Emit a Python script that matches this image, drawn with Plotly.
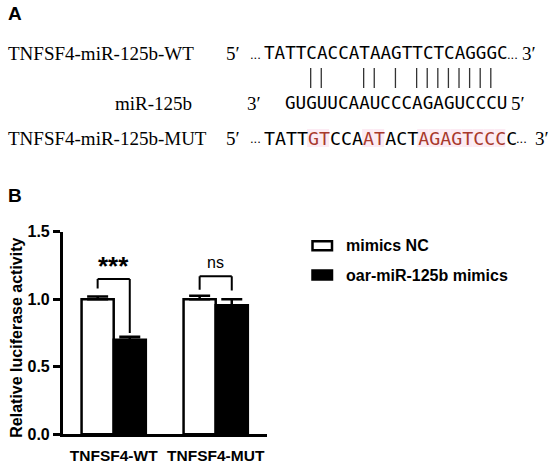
import plotly.graph_objects as go

# ---------------- Panel B data ----------------
groups = ["TNFSF4-WT", "TNFSF4-MUT"]
series_names = ["mimics NC", "oar-miR-125b mimics"]
nc_values = [1.00, 1.00]
nc_err = [0.02, 0.025]
mimic_values = [0.70, 0.955]
mimic_err = [0.022, 0.045]
sig_labels = ["***", "ns"]
sig_bracket_top = [1.15, 1.17]
sig_left_end = [1.08, 1.07]
sig_right_end = [0.75, 1.065]
sig_label_y = [1.245, 1.275]
y_tickvals = [0, 0.5, 1.0, 1.5]
y_ticktext = ["0.0", "0.5", "1.0", "1.5"]
y_title = "Relative luciferase activity"

# ---------------- Panel A data ----------------
wt_label = "TNFSF4-miR-125b-WT"
mir_label = "miR-125b"
mut_label = "TNFSF4-miR-125b-MUT"
wt_seq = "TATTCACCATAAGTTCTCAGGGC"
mir_seq = "GUGUUCAAUCCCAGAGUCCCU"      # written 3' -> 5'
mut_seq = "TATTGTCCAATACTAGAGTCCCC"
mut_red_idx = [4, 5, 9, 10, 14, 15, 16, 17, 18, 19, 20, 21]
mir_offset = 2                          # miR letter j lies under WT letter j+2
wc_pairs = {("A", "U"), ("T", "A"), ("C", "G"), ("G", "C")}

# ---------------- geometry / style ----------------
W, H = 550, 464
SANS = "Liberation Sans, Arial, sans-serif"
SERIF = "Liberation Serif, Times New Roman, serif"
MONO = "DejaVu Sans Mono, Liberation Mono, monospace"
MONO_ADV = 0.602                       # advance width of DejaVu Sans Mono (em)
RED = "#a8392c"
PINK = "#fcebf3"


def px(x):
    return x / W


def py(y):
    return 1 - y / H


annotations = []
shapes = []


def text(t, x, y, size, family, color="black", xanchor="center", weight="normal", angle=0):
    annotations.append(dict(
        text=t, x=px(x), y=py(y), xref="paper", yref="paper",
        xanchor=xanchor, yanchor="middle", showarrow=False, textangle=angle,
        borderpad=0,
        font=dict(size=size, family=family, color=color, weight=weight)))


# panel letters
text("A", 7, 13, 19, SANS, xanchor="left", weight="bold")
text("B", 7, 195, 19, SANS, xanchor="left", weight="bold")

# row positions
row1_y, row2_y, row3_y = 53, 103, 138
seq_start = 263.0
size12 = 17.6
size3 = 18.3
pitch12 = size12 * MONO_ADV
pitch3 = size3 * MONO_ADV

# row labels (serif)
text(wt_label, 7, row1_y, 19, SERIF, xanchor="left")
text(mir_label, 193, row2_y, 19, SERIF, xanchor="right")
text(mut_label, 7, row3_y, 19, SERIF, xanchor="left")

# WT row
text("5\u2032", 233, row1_y, 19, SERIF)
text("...", 262, row1_y + 1, 13, SANS, xanchor="right")
text(wt_seq, seq_start, row1_y, size12, MONO, xanchor="left")
wt_end = seq_start + pitch12 * len(wt_seq)
text("...", wt_end - 1, row1_y + 1, 13, SANS, xanchor="left")
text("3\u2032", 529, row1_y, 19, SERIF)

# miR row
mir_start = seq_start + pitch12 * mir_offset
text("3\u2032", 254, row2_y, 19, SERIF)
text(mir_seq, mir_start, row2_y, size12, MONO, xanchor="left")
text("5\u2032", 518, row2_y, 19, SERIF)

# pairing bars (Watson-Crick pairs)
for j, ch in enumerate(mir_seq):
    i = j + mir_offset
    if (wt_seq[i], ch) in wc_pairs:
        xb = seq_start + pitch12 * (i + 0.5)
        shapes.append(dict(type="line", xref="paper", yref="paper",
                           x0=px(xb), x1=px(xb), y0=py(68), y1=py(88),
                           line=dict(color="#333333", width=1.3)))

# MUT row
text("5\u2032", 233, row3_y, 19, SERIF)
text("...", 262, row3_y + 1, 13, SANS, xanchor="right")
parts = []
for i, ch in enumerate(mut_seq):
    if i in mut_red_idx:
        x0 = seq_start + pitch3 * i
        shapes.append(dict(type="rect", xref="paper", yref="paper", layer="below",
                           x0=px(x0), x1=px(x0 + pitch3),
                           y0=py(row3_y + 9), y1=py(row3_y - 9),
                           fillcolor=PINK, line=dict(width=0)))
        parts.append('<span style="color:%s">%s</span>' % (RED, ch))
    else:
        parts.append(ch)
text("".join(parts), seq_start, row3_y, size3, MONO, xanchor="left")
mut_end = seq_start + pitch3 * len(mut_seq)
text("...", mut_end - 1, row3_y + 1, 13, SANS, xanchor="left")
text("3\u2032", 542, row3_y, 19, SERIF)

# ---------------- Panel B chart ----------------
x_left, x_right = 62.7, 266.7
y_bottom, y_top = 434.3, 231.7
bargap = 0.37
bar_off = (1 - bargap) / 4

fig = go.Figure()
fig.add_trace(go.Bar(
    x=groups, y=nc_values, name=series_names[0],
    marker=dict(color="white", line=dict(color="black", width=2.5)),
    error_y=dict(type="data", array=nc_err, arrayminus=[0] * len(nc_err), symmetric=False,
                 color="black", thickness=2.5, width=10.5),
    showlegend=False))
fig.add_trace(go.Bar(
    x=groups, y=mimic_values, name=series_names[1],
    marker=dict(color="black", line=dict(color="black", width=2.5)),
    error_y=dict(type="data", array=mimic_err, arrayminus=[0] * len(mimic_err), symmetric=False,
                 color="black", thickness=2.5, width=10.5),
    showlegend=False))

# significance brackets
for k in range(len(groups)):
    xl, xr = k - bar_off, k + bar_off
    for (a0, b0, a1, b1) in [(xl, sig_left_end[k], xl, sig_bracket_top[k]),
                             (xl, sig_bracket_top[k], xr, sig_bracket_top[k]),
                             (xr, sig_bracket_top[k], xr, sig_right_end[k])]:
        shapes.append(dict(type="line", xref="x", yref="y", x0=a0, y0=b0, x1=a1, y1=b1,
                           line=dict(color="black", width=2)))
    is_star = sig_labels[k].startswith("*")
    annotations.append(dict(
        text=sig_labels[k], x=k, y=sig_label_y[k], xref="x", yref="y",
        xanchor="center", yanchor="middle", showarrow=False,
        font=dict(size=26 if is_star else 16, family=SANS, color="black",
                  weight="bold" if is_star else "normal")))

# y-axis title
text(y_title, 15.7, 338, 16, SANS, weight="bold", angle=-90)

# custom legend
legend_rows = [(245.7, "white"), (275.0, "black")]
for (ly, fill), name in zip(legend_rows, series_names):
    shapes.append(dict(type="rect", xref="paper", yref="paper",
                       x0=px(312.5), x1=px(332), y0=py(ly + 4.5), y1=py(ly - 4.5),
                       fillcolor=fill, line=dict(color="black", width=2.5)))
    text(name, 345, ly, 16, SANS, xanchor="left", weight="bold")

fig.update_layout(
    width=W, height=H, autosize=False,
    margin=dict(l=0, r=0, t=0, b=0, pad=0),
    paper_bgcolor="white", plot_bgcolor="white",
    barmode="group", bargap=bargap, bargroupgap=0,
    annotations=annotations, shapes=shapes,
    xaxis=dict(domain=[px(x_left), px(x_right)], type="category", range=[-0.5, 1.5],
               automargin=False,
               showline=True, linecolor="black", linewidth=2.5, ticks="",
               showgrid=False, zeroline=False, ticklabelstandoff=5,
               tickfont=dict(size=15.5, family=SANS, color="black", weight="bold")),
    yaxis=dict(domain=[py(y_bottom), py(y_top)], range=[0, 1.5],
               automargin=False,
               tickvals=y_tickvals, ticktext=y_ticktext,
               showline=True, linecolor="black", linewidth=2.5,
               ticks="outside", ticklen=7, tickwidth=2.5, tickcolor="black",
               showgrid=False, zeroline=False,
               tickfont=dict(size=16, family=SANS, color="black", weight="bold")),
)

fig.write_html("out.html", config={"displayModeBar": False},
               post_script="document.body.style.margin='0px';")
